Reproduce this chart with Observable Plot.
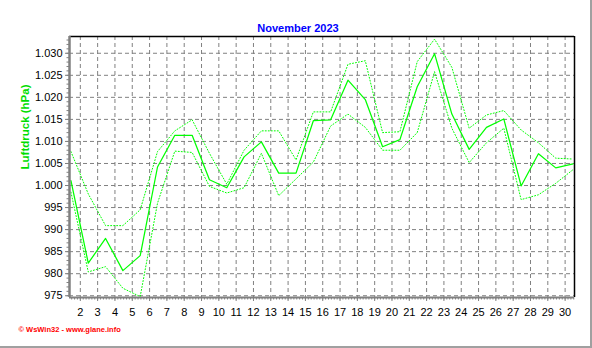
<!DOCTYPE html>
<html><head><meta charset="utf-8">
<script src="https://cdn.jsdelivr.net/npm/d3@7"></script>
<script src="https://cdn.jsdelivr.net/npm/@observablehq/plot@0.6"></script>
<style>
html,body{margin:0;padding:0;background:#fff;}
#wrap{position:relative;width:592px;height:348px;overflow:hidden;background:#fff;}
#wrap svg{position:absolute;left:0;top:0;}
.edge{position:absolute;background:#a0a0a0;}
</style></head><body><div id="wrap"></div>
<script>
const title = "November 2023";
const yLabel = "Luftdruck (hPa)";
const credit = "© WsWin32 - www.glane.info";
const days = [1,2,3,4,5,6,7,8,9,10,11,12,13,14,15,16,17,18,19,20,21,22,23,24,25,26,27,28,29,30];
const pMean = [1001.1,982.4,988.0,980.7,984.1,1004.2,1011.4,1011.4,1001.3,999.5,1006.5,1009.9,1002.8,1002.8,1014.7,1014.9,1023.9,1019.5,1008.8,1010.4,1022.4,1029.9,1016.2,1008.2,1013.2,1015.1,999.9,1007.2,1004.0,1004.9];
const pMax = [1007.7,998.1,990.9,990.9,994.5,1007.7,1012.4,1014.9,1007.3,1000.3,1008.0,1012.4,1012.4,1005.8,1016.7,1016.7,1027.5,1028.3,1012.0,1012.2,1028.1,1033.2,1026.8,1013.0,1016.0,1017.0,1012.6,1009.7,1006.2,1006.0];
const pMin = [998.5,980.4,981.6,976.7,974.8,996.0,1007.8,1007.5,999.8,998.3,999.5,1007.3,997.7,1001.5,1005.3,1013.5,1016.2,1013.2,1008.0,1008.0,1012.0,1025.8,1013.0,1005.2,1009.7,1013.0,996.8,997.9,1000.5,1003.6];
const xTickDays = [2,3,4,5,6,7,8,9,10,11,12,13,14,15,16,17,18,19,20,21,22,23,24,25,26,27,28,29,30];
const yTickValues = [975,980,985,990,995,1000,1005,1010,1015,1020,1025,1030];

const t = (d, h) => new Date(Date.UTC(2023, 10, d, h));
const rows = days.map((d, i) => ({date: t(d, 11), mean: pMean[i], max: pMax[i], min: pMin[i]}));
const xDomain = [new Date(Date.UTC(2023, 10, 1, 9)), new Date(Date.UTC(2023, 10, 30, 13))];
const yDomain = [974.6, 1033.8];
const xTicks = xTickDays.map(d => t(d, 0));
const xMinor = d3.utcHour.every(4).range(xDomain[0], xDomain[1]);
const yMinor = d3.range(975, 1034, 1);
const fmtY = v => v >= 1000 ? "1." + String(v - 1000).padStart(3, "0") : String(v);
const font = "'Liberation Sans', Arial, sans-serif";
const green = "#00ff00";
const grid = {stroke: "#808080", strokeOpacity: 1, strokeDasharray: "4,3", strokeWidth: 1};

const chart = Plot.plot({
  width: 592, height: 348,
  marginLeft: 69, marginRight: 18, marginTop: 36, marginBottom: 51,
  style: {background: "#fff", fontFamily: font, fontSize: "11px", color: "#000", overflow: "visible"},
  x: {type: "utc", domain: xDomain, axis: null},
  y: {domain: yDomain, axis: null},
  marks: [
    Plot.gridX({ticks: xTicks, ...grid}),
    Plot.gridY({ticks: yTickValues, ...grid}),
    Plot.ruleY([yDomain[1]], {stroke: "#000", strokeWidth: 1.5}),
    Plot.ruleX([xDomain[1]], {stroke: "#000", strokeWidth: 1.5}),
    Plot.lineY(rows, {x: "date", y: "max", stroke: green, strokeWidth: 1, strokeDasharray: "1,2"}),
    Plot.lineY(rows, {x: "date", y: "min", stroke: green, strokeWidth: 1, strokeDasharray: "1,2"}),
    Plot.lineY(rows, {x: "date", y: "mean", stroke: green, strokeWidth: 1.25}),
    Plot.ruleX([xDomain[0]], {stroke: "#808080", strokeWidth: 2.5}),
    Plot.ruleY([yDomain[0]], {stroke: "#808080", strokeWidth: 2}),
    Plot.axisY({ticks: yMinor, tickSize: 2.5, tickFormat: () => "", stroke: "#808080"}),
    Plot.axisY({ticks: yTickValues, tickSize: 4, tickPadding: 3, tickFormat: fmtY, stroke: "#808080", fill: "#000", label: null}),
    Plot.axisX({ticks: xMinor, tickSize: 2.5, tickFormat: () => "", stroke: "#808080", label: null}),
    Plot.axisX({ticks: xTicks, tickSize: 4, tickPadding: 7, tickFormat: d => String(d.getUTCDate()), stroke: "#808080", fill: "#000", label: null}),
    Plot.text([title], {text: d => d, frameAnchor: "top", dx: -24, dy: -12, fill: "#0000ff", fontWeight: "bold", fontSize: 11}),
    Plot.text([yLabel], {text: d => d, frameAnchor: "left", dx: -44, dy: 2.5, rotate: -90, fill: "#00dd00", fontWeight: "bold", fontSize: 11.5}),
    Plot.text([credit], {text: d => d, frameAnchor: "bottom-left", dx: -51, dy: 34, textAnchor: "start", fill: "#ff0000", fontWeight: "bold", fontSize: 7.5})
  ]
});
const wrap = document.getElementById("wrap");
wrap.appendChild(chart);
const r = document.createElement("div"); r.className = "edge";
r.style.cssText = "left:590px;top:0;width:2px;height:348px;";
const b = document.createElement("div"); b.className = "edge";
b.style.cssText = "left:0;top:346px;width:592px;height:2px;";
wrap.appendChild(r); wrap.appendChild(b);
</script></body></html>
